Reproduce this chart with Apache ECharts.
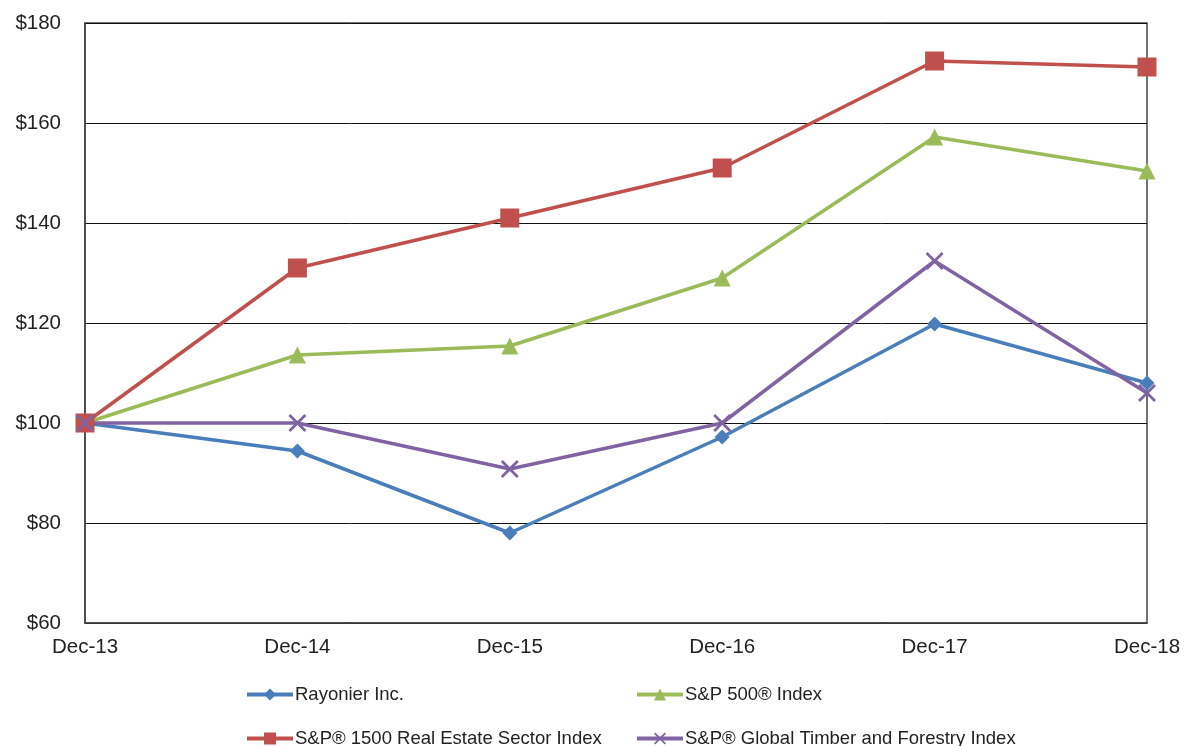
<!DOCTYPE html>
<html>
<head>
<meta charset="utf-8">
<script src="https://cdn.jsdelivr.net/npm/echarts@6/dist/echarts.min.js"></script>
<style>
  html, body { margin: 0; padding: 0; background: #fff; }
  #chart { width: 1187px; height: 746px; }
</style>
</head>
<body>
<div id="chart"></div>
<script>
// categories and values
const years = ['Dec-13', 'Dec-14', 'Dec-15', 'Dec-16', 'Dec-17', 'Dec-18'];
const rayonier = [100, 94.4, 78, 97.2, 119.8, 108];
const sp500 = [100, 113.6, 115.4, 129, 157.2, 150.4];
const realEstate = [100, 131, 141, 151, 172.4, 171.2];
const timber = [100, 100, 90.8, 100, 132.4, 106];

const names = [
  'Rayonier Inc.',
  'S&P 500® Index',
  'S&P® 1500 Real Estate Sector Index',
  'S&P® Global Timber and Forestry Index'
];

const xMark = 'path://M0,1.1L1.1,0L5,3.9L8.9,0L10,1.1L6.1,5L10,8.9L8.9,10L5,6.1L1.1,10L0,8.9L3.9,5Z';

const font = 'Liberation Sans, Arial, sans-serif';

function legendAt(name, left, top) {
  return {
    data: [name],
    left: left,
    top: top,
    itemWidth: 46,
    itemHeight: 15,
    itemGap: 0,
    lineStyle: { width: 4 },
    textStyle: { fontFamily: font, fontSize: 18.5, color: '#222', padding: [0, 0, 0, -3] }
  };
}

const chart = echarts.init(document.getElementById('chart'));

chart.setOption({
  animation: false,
  grid: {
    left: 85, right: 40, top: 23, bottom: 123,
    show: true, borderColor: '#444', borderWidth: 1.5
  },
  legend: [
    legendAt(names[0], 240, 680),
    legendAt(names[1], 630, 680),
    legendAt(names[2], 240, 724),
    legendAt(names[3], 630, 724)
  ],
  xAxis: {
    type: 'category',
    data: years,
    boundaryGap: false,
    axisLine: { lineStyle: { color: '#444', width: 1.5 } },
    axisTick: { show: false },
    axisLabel: { fontFamily: font, fontSize: 20.5, color: '#222', margin: 14 }
  },
  yAxis: {
    type: 'value',
    min: 60, max: 180, interval: 20,
    axisLine: { show: true, lineStyle: { color: '#444', width: 1.5 } },
    axisTick: { show: false },
    splitLine: { lineStyle: { color: '#111', width: 1 } },
    axisLabel: {
      fontFamily: font, fontSize: 20.5, color: '#222', margin: 24,
      formatter: v => '$' + v
    }
  },
  series: [
    {
      name: names[0], type: 'line', data: rayonier,
      symbol: 'diamond', symbolSize: 15,
      lineStyle: { color: '#4A7EBB', width: 3.5 },
      itemStyle: { color: '#4A7EBB' }
    },
    {
      name: names[1], type: 'line', data: sp500,
      symbol: 'triangle', symbolSize: 17,
      lineStyle: { color: '#9BBB59', width: 3.5 },
      itemStyle: { color: '#9BBB59' }
    },
    {
      name: names[2], type: 'line', data: realEstate,
      symbol: 'rect', symbolSize: 19,
      lineStyle: { color: '#C0504D', width: 3.5 },
      itemStyle: { color: '#C0504D' }
    },
    {
      name: names[3], type: 'line', data: timber,
      symbol: xMark, symbolSize: 18,
      lineStyle: { color: '#8064A2', width: 3.5 },
      itemStyle: { color: '#8064A2' }
    }
  ]
});
</script>
</body>
</html>
